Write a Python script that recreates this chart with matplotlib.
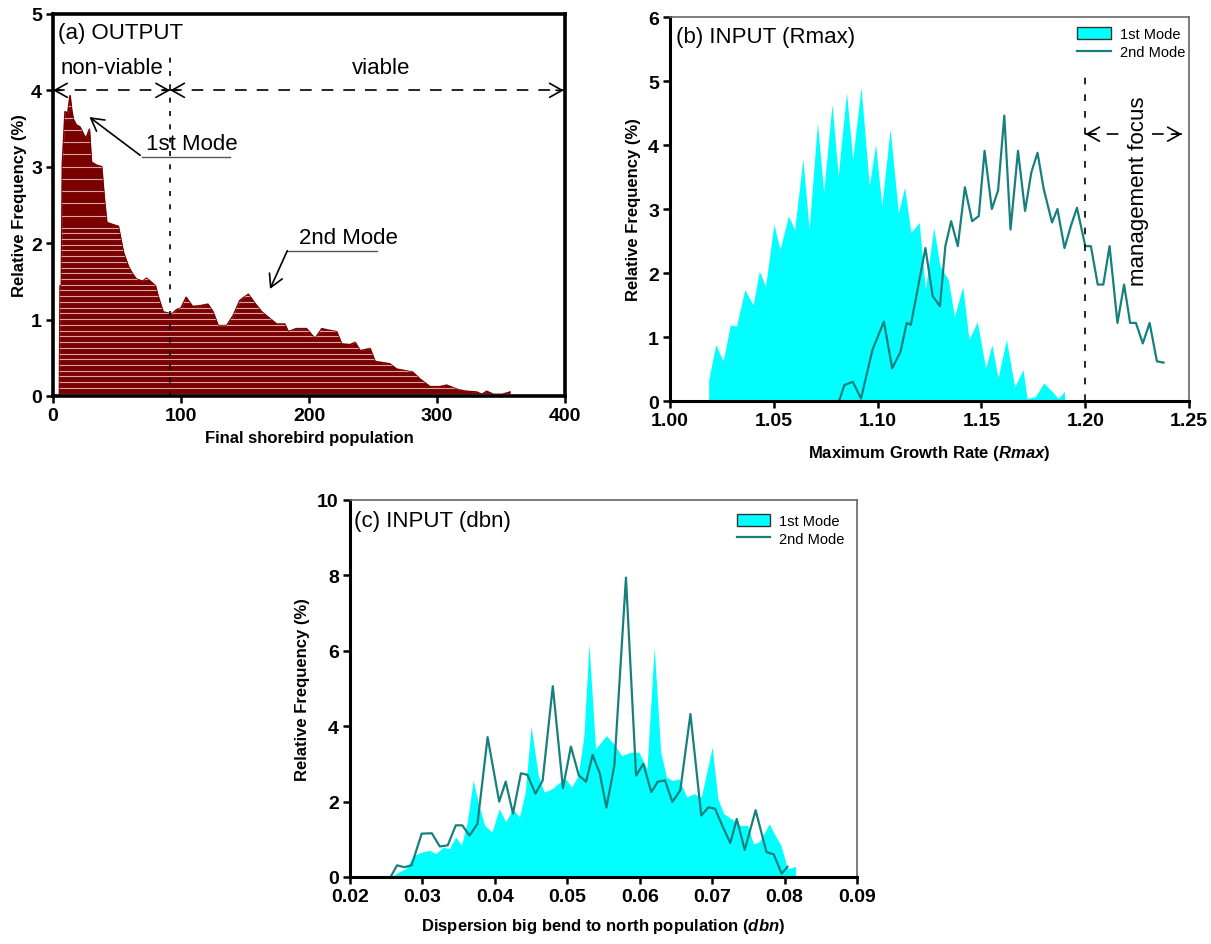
import numpy as np
import matplotlib
matplotlib.use("Agg")
import matplotlib.pyplot as plt
from matplotlib.patches import Patch
from matplotlib.lines import Line2D

plt.rcParams['font.family'] = ['Liberation Sans', 'DejaVu Sans']
plt.rcParams['mathtext.fontset'] = 'custom'
plt.rcParams['mathtext.bfit'] = 'Liberation Sans:bold:italic'
plt.rcParams['mathtext.bf'] = 'Liberation Sans:bold'

# (a) final shorebird population, relative frequency (%)
pop_x = [5.0, 5.5, 6.5, 7.3, 9.4, 11.5, 13.3, 14.5, 15.9, 18, 21, 24.9, 26.5, 28.4, 30,
         34, 38, 40, 42, 47, 51, 55, 59, 62, 65, 70, 73, 76, 80, 82, 86, 92.7, 96.6, 100,
         104, 109, 115, 121, 125, 129, 135.7, 140.7, 146, 152.6, 157.8, 163, 169.5, 174.8,
         181, 183.8, 190, 198, 204.7, 210, 215, 221.6, 225.5, 232, 236, 240, 247.7, 251.6,
         263, 268.5, 275, 281, 286.7, 294.5, 302, 307.6, 316.4, 323, 331, 335, 338.8, 344,
         351, 357]
pop_freq = [0, 1.44, 1.44, 3.04, 3.72, 3.70, 3.93, 3.75, 3.62, 3.55, 3.52, 3.39, 3.40, 3.49,
            3.06, 3.02, 3.0, 2.6, 2.27, 2.24, 2.22, 1.88, 1.69, 1.60, 1.53, 1.5, 1.54, 1.50,
            1.44, 1.31, 1.10, 1.07, 1.13, 1.15, 1.29, 1.17, 1.18, 1.20, 1.10, 0.92, 0.92, 1.05,
            1.25, 1.33, 1.21, 1.10, 1.01, 0.94, 0.94, 0.84, 0.88, 0.88, 0.75, 0.88, 0.86, 0.84,
            0.68, 0.67, 0.70, 0.59, 0.62, 0.45, 0.42, 0.35, 0.33, 0.31, 0.22, 0.12, 0.12, 0.14,
            0.08, 0.06, 0.05, 0.02, 0.06, 0.02, 0.02, 0.05]

# (b) Rmax
rmax_x1 = [1.0186, 1.022, 1.0256, 1.029, 1.032, 1.036, 1.040, 1.043, 1.046, 1.050, 1.053,
           1.057, 1.060, 1.064, 1.067, 1.071, 1.074, 1.078, 1.081, 1.085, 1.088, 1.092, 1.096,
           1.099, 1.102, 1.106, 1.110, 1.113, 1.116, 1.120, 1.123, 1.127, 1.130, 1.134, 1.137,
           1.141, 1.144, 1.148, 1.152, 1.155, 1.158, 1.162, 1.166, 1.170, 1.172, 1.176, 1.180,
           1.184, 1.187, 1.190]
rmax_y1 = [0.33, 0.88, 0.62, 1.19, 1.17, 1.74, 1.5, 2.03, 1.79, 2.76, 2.37, 2.89, 2.68, 3.78,
           2.68, 4.35, 3.26, 4.64, 3.52, 4.82, 3.78, 4.9, 3.36, 4.01, 3.05, 4.25, 2.94, 3.34,
           2.63, 2.79, 1.74, 2.71, 2.11, 1.9, 1.32, 1.79, 0.96, 1.24, 0.51, 0.88, 0.36, 0.96,
           0.22, 0.49, 0.04, 0.07, 0.28, 0.15, 0.04, 0.15]
rmax_x2 = [1.0814, 1.084, 1.088, 1.092, 1.0975, 1.103, 1.107, 1.111, 1.114, 1.116, 1.123,
           1.1265, 1.130, 1.1326, 1.1354, 1.1386, 1.142, 1.1455, 1.1487, 1.1515, 1.155, 1.158,
           1.161, 1.164, 1.1676, 1.171, 1.174, 1.177, 1.180, 1.184, 1.1866, 1.190, 1.193,
           1.196, 1.200, 1.2027, 1.206, 1.2087, 1.2117, 1.2155, 1.2187, 1.2216, 1.2244,
           1.2277, 1.231, 1.2345, 1.2377]
rmax_y2 = [0, 0.25, 0.3, 0.04, 0.8, 1.24, 0.51, 0.77, 1.22, 1.19, 2.39, 1.64, 1.48, 2.42,
           2.81, 2.42, 3.34, 2.81, 2.89, 3.91, 3.0, 3.29, 4.46, 2.68, 3.91, 2.97, 3.57, 3.88,
           3.31, 2.79, 3.0, 2.39, 2.73, 3.02, 2.42, 2.42, 1.82, 1.82, 2.42, 1.22, 1.82, 1.22,
           1.22, 0.9, 1.22, 0.62, 0.6]

# (c) dbn
dbn_x1 = [0.0256, 0.0267, 0.0277, 0.0288, 0.0299, 0.031, 0.0318, 0.0329, 0.0337, 0.0346,
          0.0354, 0.0362, 0.037, 0.0378, 0.0386, 0.0396, 0.0406, 0.0415, 0.0425, 0.0434,
          0.0442, 0.045, 0.046, 0.0468, 0.0479, 0.049, 0.0498, 0.0506, 0.0515, 0.0523,
          0.053, 0.0539, 0.0554, 0.0566, 0.0575, 0.0588, 0.0599, 0.061, 0.062, 0.0629,
          0.0637, 0.0645, 0.0654, 0.0665, 0.0675, 0.0685, 0.07, 0.0708, 0.0716, 0.0727,
          0.0738, 0.0749, 0.0757, 0.0765, 0.0779, 0.0787, 0.0795, 0.0804, 0.0815]
dbn_y1 = [0, 0.13, 0.22, 0.57, 0.66, 0.71, 0.62, 0.79, 0.75, 1.06, 0.84, 1.46, 2.56, 1.9,
          1.37, 1.19, 1.81, 1.46, 1.81, 1.59, 2.25, 4.0, 2.69, 2.25, 2.34, 2.52, 2.6, 2.38,
          2.69, 3.75, 6.18, 3.4, 3.75, 3.49, 3.22, 3.31, 3.31, 2.87, 6.09, 3.31, 2.65, 2.56,
          2.6, 2.12, 2.21, 2.12, 3.44, 2.07, 1.68, 1.54, 1.37, 1.37, 0.88, 0.93, 1.41, 1.1,
          0.84, 0.22, 0.28]
dbn_x2 = [0.0256, 0.0265, 0.0275, 0.0285, 0.0299, 0.0313, 0.0324, 0.0335, 0.0346, 0.0355,
          0.0365, 0.0376, 0.039, 0.0406, 0.0415, 0.0425, 0.0436, 0.0445, 0.0456, 0.0466,
          0.048, 0.0494, 0.0505, 0.0516, 0.0526, 0.0535, 0.0545, 0.0554, 0.0565, 0.0581,
          0.0595, 0.0605, 0.0616, 0.0625, 0.0635, 0.0645, 0.0656, 0.067, 0.0685, 0.0695,
          0.0704, 0.0715, 0.0725, 0.0734, 0.0745, 0.076, 0.0775, 0.0785, 0.0796, 0.0804]
dbn_y2 = [0, 0.31, 0.26, 0.31, 1.15, 1.16, 0.81, 0.84, 1.37, 1.37, 1.1, 1.41, 3.71, 2.0,
          2.53, 1.68, 2.75, 2.71, 2.21, 2.56, 5.06, 2.36, 3.46, 2.69, 2.53, 3.24, 2.74, 1.84,
          2.96, 7.94, 2.69, 3.0, 2.25, 2.53, 2.56, 1.99, 2.3, 4.32, 1.63, 1.85, 1.81, 1.32,
          0.9, 1.54, 0.72, 1.77, 0.66, 0.6, 0.09, 0.27]

MAROON = '#7a0000'
CYAN = '#00ffff'
TEAL = '#17807f'
NOTE_SIZE = 16

fig = plt.figure(figsize=(12.11, 9.45), dpi=100)
ax_a = fig.add_axes([0.0438, 0.580, 0.4228, 0.4042])
ax_b = fig.add_axes([0.5533, 0.5746, 0.4286, 0.4063])
ax_c = fig.add_axes([0.2890, 0.0709, 0.4187, 0.3990])


def style_axes(ax, heavy_box=False):
    for side in ['left', 'bottom']:
        ax.spines[side].set_linewidth(2.2)
        ax.spines[side].set_color('black')
    for side in ['top', 'right']:
        if heavy_box:
            ax.spines[side].set_linewidth(2.2)
            ax.spines[side].set_color('black')
        else:
            ax.spines[side].set_linewidth(1.2)
            ax.spines[side].set_color('#666666')
    ax.tick_params(direction='out', length=5, width=1.8, labelsize=14, pad=3,
                   top=False, right=False)
    for lab in ax.get_xticklabels() + ax.get_yticklabels():
        lab.set_fontweight('bold')


head = dict(arrowstyle='->, head_length=0.5, head_width=0.28', lw=1.2, color='black',
            mutation_scale=18, shrinkA=0, shrinkB=0)

# ---- (a) OUTPUT
ax = ax_a
fill = ax.fill_between(pop_x, 0, pop_freq, color=MAROON, lw=0)
ax.plot(pop_x, pop_freq, color=MAROON, lw=1.2)
# light horizontal striping inside the fill (denser low, sparse high)
levels = np.concatenate([np.arange(0.03, 2.2, 0.075), np.arange(2.2, 3.9, 0.16)])
stripes = ax.hlines(levels, 0, 400, colors='#e6c4c4', lw=0.8, alpha=0.85)
stripes.set_clip_path(fill.get_paths()[0], ax.transData)
ax.set_xlim(0, 400)
ax.set_ylim(0, 5)
ax.set_xticks([0, 100, 200, 300, 400])
ax.set_yticks([0, 1, 2, 3, 4, 5])
style_axes(ax, heavy_box=True)
for side in ax.spines:
    ax.spines[side].set_linewidth(2.6)
ax.set_xlabel('Final shorebird population', fontsize=12, fontweight='bold', labelpad=4)
ax.set_ylabel('Relative Frequency (%)', fontsize=12, fontweight='bold', labelpad=3)
ax.text(4, 4.76, '(a) OUTPUT', fontsize=NOTE_SIZE, va='center', ha='left')
ax.axvline(91.5, ymin=0, ymax=0.9, color='black', lw=1.2, ls=(0, (3, 5)))
ax.plot([0, 91.5], [4, 4], color='black', lw=1.2, ls=(0, (7, 6)))
ax.plot([91.5, 400], [4, 4], color='black', lw=1.2, ls=(0, (7, 6)))
for tip, tail in [(0, 6), (91.5, 85.5), (91.5, 97.5), (399, 393)]:
    ax.annotate('', xy=(tip, 4), xytext=(tail, 4), arrowprops=head)
ax.text(46, 4.3, 'non-viable', fontsize=NOTE_SIZE, ha='center', va='center')
ax.text(256, 4.3, 'viable', fontsize=NOTE_SIZE, ha='center', va='center')
# mode annotations
ax.annotate('', xy=(28.4, 3.65), xytext=(68, 3.15), arrowprops=head)
ax.plot([69.6, 138], [3.13, 3.13], color='#555555', lw=1.0)
ax.text(73, 3.17, '1st Mode', fontsize=NOTE_SIZE, ha='left', va='bottom')
ax.annotate('', xy=(169.5, 1.40), xytext=(183, 1.9), arrowprops=head)
ax.plot([183, 253], [1.9, 1.9], color='#555555', lw=1.0)
ax.text(192, 1.94, '2nd Mode', fontsize=NOTE_SIZE, ha='left', va='bottom')

# ---- (b) INPUT (Rmax)
ax = ax_b
ax.fill_between(rmax_x1, 0, rmax_y1, color=CYAN, lw=0)
ax.plot(rmax_x2, rmax_y2, color=TEAL, lw=1.6)
ax.set_xlim(1.0, 1.25)
ax.set_ylim(0, 6)
ax.set_xticks([1.00, 1.05, 1.10, 1.15, 1.20, 1.25])
ax.set_xticklabels(['1.00', '1.05', '1.10', '1.15', '1.20', '1.25'])
ax.set_yticks(range(7))
style_axes(ax)
ax.set_xlabel(r'Maximum Growth Rate ($\mathbfit{Rmax}$)', fontsize=12, fontweight='bold',
              labelpad=10)
ax.set_ylabel('Relative Frequency (%)', fontsize=12, fontweight='bold', labelpad=5)
ax.text(1.003, 5.7, '(b) INPUT (Rmax)', fontsize=NOTE_SIZE, va='center', ha='left')
ax.plot([1.2, 1.2], [0, 5.19], color='black', lw=1.2, ls=(0, (4, 6)))
ax.plot([1.2, 1.2185], [4.17, 4.17], color='black', lw=1.2, ls=(0, (7, 6)))
ax.plot([1.232, 1.2465], [4.17, 4.17], color='black', lw=1.2, ls=(0, (7, 6)))
ax.annotate('', xy=(1.2, 4.17), xytext=(1.205, 4.17), arrowprops=head)
ax.annotate('', xy=(1.2465, 4.17), xytext=(1.2415, 4.17), arrowprops=head)
ax.text(1.2254, 3.3, 'management focus', fontsize=NOTE_SIZE, rotation=90,
        ha='center', va='center')
handles = [Patch(facecolor=CYAN, edgecolor='#333333', lw=1.0, label='1st Mode'),
           Line2D([], [], color=TEAL, lw=1.6, label='2nd Mode')]
leg_kw = dict(frameon=False, fontsize=10.5, handlelength=2.3, handleheight=0.9,
              labelspacing=0.25, handletextpad=0.6, borderaxespad=0.3, loc='upper right')
ax.legend(handles=handles, bbox_to_anchor=(1.012, 1.0), **leg_kw)

# ---- (c) INPUT (dbn)
ax = ax_c
ax.fill_between(dbn_x1, 0, dbn_y1, color=CYAN, lw=0)
ax.plot(dbn_x2, dbn_y2, color=TEAL, lw=1.6)
ax.set_xlim(0.02, 0.09)
ax.set_ylim(0, 10)
ax.set_xticks([0.02, 0.03, 0.04, 0.05, 0.06, 0.07, 0.08, 0.09])
ax.set_xticklabels(['0.02', '0.03', '0.04', '0.05', '0.06', '0.07', '0.08', '0.09'])
ax.set_yticks([0, 2, 4, 6, 8, 10])
style_axes(ax)
ax.set_xlabel(r'Dispersion big bend to north population ($\mathbfit{dbn}$)', fontsize=12,
              fontweight='bold', labelpad=8)
ax.set_ylabel('Relative Frequency (%)', fontsize=12, fontweight='bold', labelpad=5)
ax.text(0.0206, 9.45, '(c) INPUT (dbn)', fontsize=NOTE_SIZE, va='center', ha='left')
ax.legend(handles=handles, bbox_to_anchor=(0.995, 0.99), **leg_kw)

fig.savefig('out.png', dpi=100)
